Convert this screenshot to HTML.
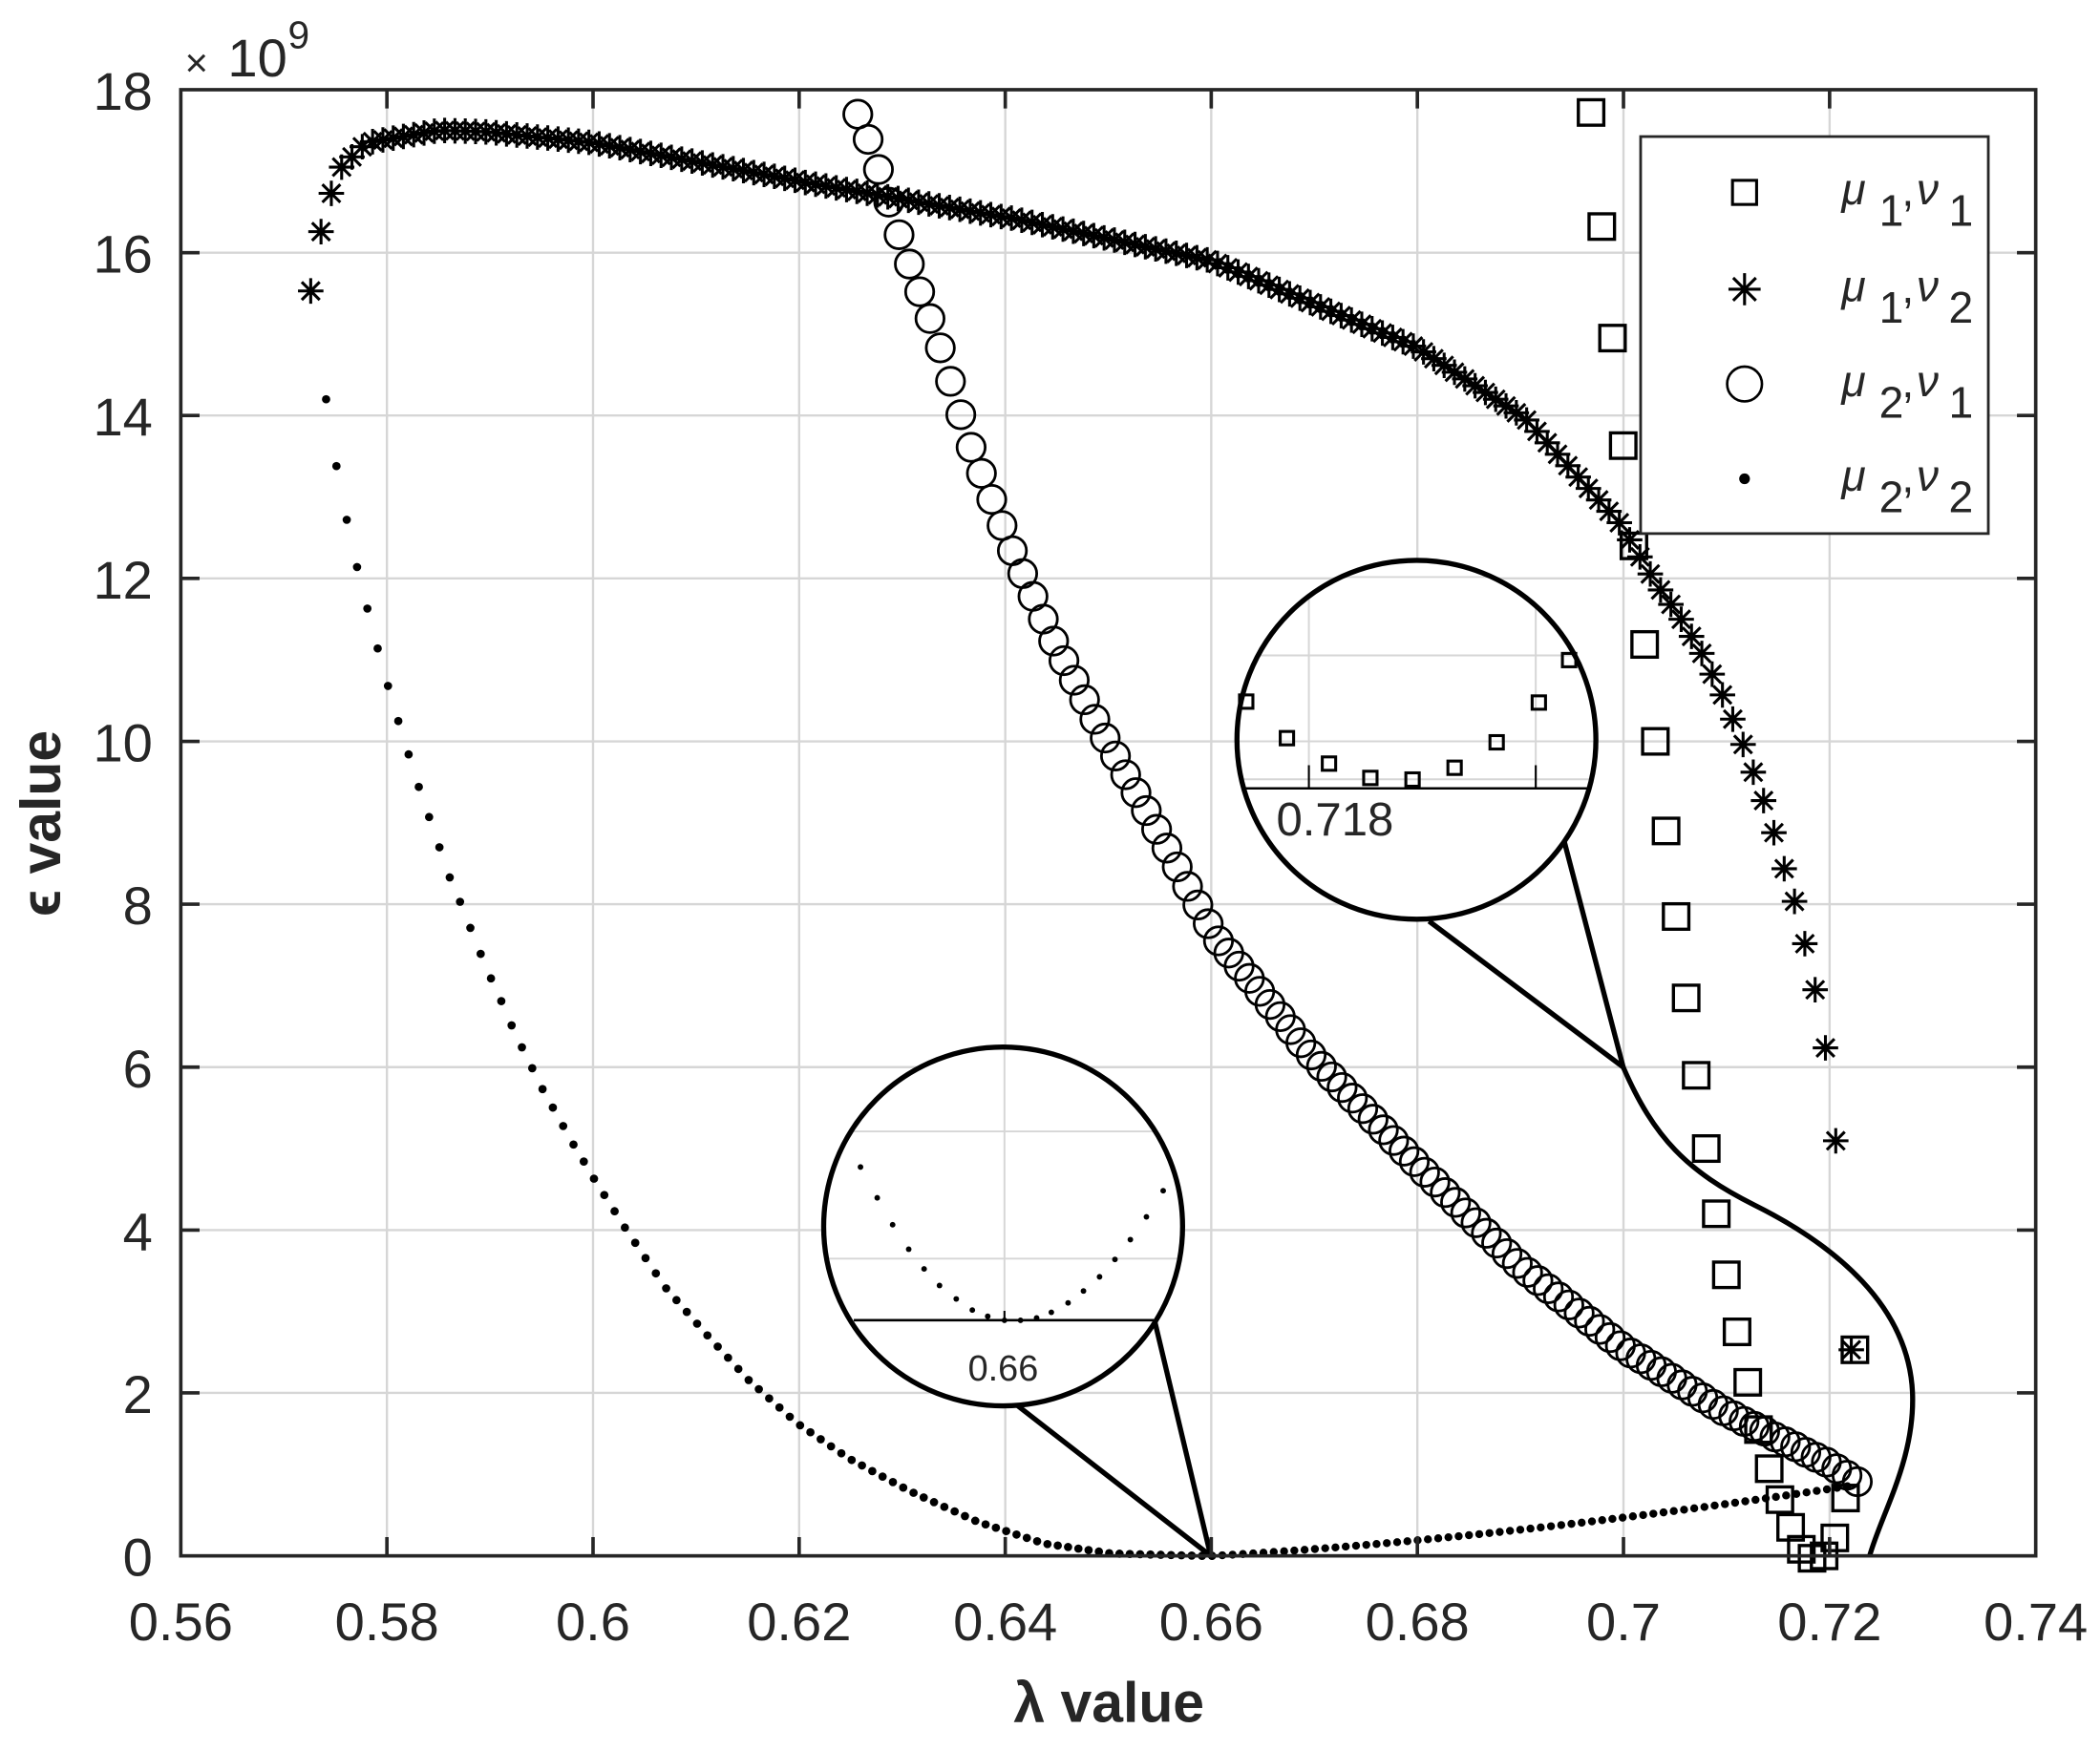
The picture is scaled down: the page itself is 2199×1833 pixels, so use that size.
<!DOCTYPE html>
<html><head><meta charset="utf-8"><style>
html,body{margin:0;padding:0;background:#fff;}
svg{display:block;}
text{font-family:"Liberation Sans",Arial,sans-serif;fill:#262626;}
</style></head><body>
<svg width="2199" height="1833" viewBox="0 0 1568 1307" preserveAspectRatio="none" xmlns="http://www.w3.org/2000/svg">
<defs>
<marker id="sq" markerUnits="userSpaceOnUse" viewBox="-12 -12 24 24" markerWidth="24" markerHeight="24" refX="0" refY="0" overflow="visible"><rect x="-9.5" y="-9.5" width="19" height="19" fill="none" stroke="#000" stroke-width="2.4"/></marker>
<marker id="ci" markerUnits="userSpaceOnUse" viewBox="-13 -13 26 26" markerWidth="26" markerHeight="26" refX="0" refY="0" overflow="visible"><circle r="10.5" fill="none" stroke="#000" stroke-width="2"/></marker>
<marker id="as" markerUnits="userSpaceOnUse" viewBox="-12 -12 24 24" markerWidth="24" markerHeight="24" refX="0" refY="0" overflow="visible"><path d="M0,-9.5V9.5M-9.5,0H9.5M-6.7,-6.7L6.7,6.7M-6.7,6.7L6.7,-6.7" fill="none" stroke="#000" stroke-width="2.2"/></marker>
<marker id="dt" markerUnits="userSpaceOnUse" viewBox="-4 -4 8 8" markerWidth="8" markerHeight="8" refX="0" refY="0" overflow="visible"><circle r="3.1" fill="#000"/></marker>
<clipPath id="c1"><circle cx="749" cy="916" r="134"/></clipPath>
<clipPath id="c2"><circle cx="1057.6" cy="552.5" r="134"/></clipPath>
</defs>
<rect x="0" y="0" width="1568" height="1307" fill="#fff"/>
<g stroke="#d6d6d6" stroke-width="1.7">
<line x1="288.9" y1="67" x2="288.9" y2="1162"/><line x1="442.8" y1="67" x2="442.8" y2="1162"/><line x1="596.7" y1="67" x2="596.7" y2="1162"/><line x1="750.6" y1="67" x2="750.6" y2="1162"/><line x1="904.4" y1="67" x2="904.4" y2="1162"/><line x1="1058.3" y1="67" x2="1058.3" y2="1162"/><line x1="1212.2" y1="67" x2="1212.2" y2="1162"/><line x1="1366.1" y1="67" x2="1366.1" y2="1162"/>
<line x1="135" y1="1040.3" x2="1520" y2="1040.3"/><line x1="135" y1="918.7" x2="1520" y2="918.7"/><line x1="135" y1="797" x2="1520" y2="797"/><line x1="135" y1="675.3" x2="1520" y2="675.3"/><line x1="135" y1="553.7" x2="1520" y2="553.7"/><line x1="135" y1="432" x2="1520" y2="432"/><line x1="135" y1="310.3" x2="1520" y2="310.3"/><line x1="135" y1="188.7" x2="1520" y2="188.7"/>
</g>
<!-- dots mu2 nu2 -->
<polyline fill="none" stroke="none" marker-start="url(#dt)" marker-mid="url(#dt)" marker-end="url(#dt)" points="243.5,298.2 251.2,348.1 258.9,388.2 266.6,423.5 274.3,454.5 282,484.3 289.7,512.3 297.4,538.5 305.1,563.4 312.7,587.7 320.4,610.2 328.1,632.8 335.8,655.3 343.5,673.5 351.2,693 358.9,712.4 366.6,730.7 374.3,747.7 382,765.8 389.7,782.2 397.4,797.8 405.1,813.4 412.8,827.2 420.5,841 428.2,854.8 435.9,867.5 443.5,880.3 451.2,892.5 458.9,904.6 466.6,916.8 474.3,928.2 482,939.6 489.7,951 497.4,962.2 505.1,971 512.8,979.8 520.5,988.6 528.2,997.3 535.9,1005.7 543.6,1014 551.3,1022.4 559,1030.7 566.6,1037.5 574.3,1044.4 582,1051.2 589.7,1058.1 597.4,1064.5 605.1,1069.7 612.8,1074.9 620.5,1080.2 628.2,1085.4 635.9,1090.4 643.6,1094.5 651.3,1098.7 659,1102.8 666.7,1106.9 674.4,1111 682.1,1114.9 689.7,1118.4 697.4,1121.9 705.1,1125.4 712.8,1128.8 720.5,1132.3 728.2,1135.8 735.9,1138.5 743.6,1141 751.3,1143.5 759,1146.1 766.7,1148.6 774.4,1151.1 782.1,1153.2 789.8,1154.3 797.5,1155.4 805.2,1156.6 812.8,1157.7 820.5,1158.8 828.2,1160 835.9,1160.4 843.6,1160.6 851.3,1160.8 859,1161 866.7,1161.2 874.4,1161.4 882.1,1161.6 889.8,1161.8 897.5,1162 905,1162"/>
<path d="M905,1162 Q1120,1150 1386,1109" fill="none" stroke="#000" stroke-width="6" stroke-linecap="round" stroke-dasharray="0 7.7"/>
<!-- circles mu2 nu1 -->
<polyline fill="none" stroke="none" marker-start="url(#ci)" marker-mid="url(#ci)" marker-end="url(#ci)" points="640.5,85.3 648.2,104.1 655.9,126.6 663.6,151 671.3,175.3 679,197.2 686.7,217.9 694.4,237.9 702.1,259.8 709.7,284.8 717.4,309.7 725.1,334.1 732.8,353.5 740.5,373 748.2,392.5 755.9,411.3 763.6,428.4 771.3,445.4 779,462.4 786.7,478.8 794.4,493.4 802.1,508 809.8,522.6 817.5,537.2 825.2,551.2 832.9,564.6 840.5,578.6 848.2,592 855.9,605.4 863.6,619.4 871.3,633.4 879,647.4 886.7,662 894.4,675.9 902.1,689.9 909.8,702.7 917.5,711.8 925.2,721.6 932.9,730.7 940.6,740.4 948.3,750.2 956,759.3 963.6,769 971.3,778.8 979,787.9 986.7,796.4 994.4,804.3 1002.1,812.2 1009.8,820.1 1017.5,828 1025.2,835.9 1032.9,843.8 1040.6,851.8 1048.3,859.7 1056,867.6 1063.7,875.5 1071.4,882.8 1079.1,890.7 1086.8,898 1094.4,905.9 1102.1,913.2 1109.8,921.1 1117.5,928.4 1125.2,936.3 1132.9,943.6 1140.6,950.3 1148.3,956.4 1156,962.5 1163.7,968.6 1171.4,974.6 1179.1,980.7 1186.8,986.8 1194.5,992.9 1202.2,999 1209.9,1005.1 1217.6,1010.5 1225.2,1014.8 1232.9,1019.7 1240.6,1024.5 1248.3,1029.4 1256,1034.3 1263.7,1039.1 1271.4,1044 1279.1,1048.9 1286.8,1053.7 1294.5,1057.4 1302.2,1061.6 1309.9,1065.3 1317.6,1068.9 1325.3,1073.2 1333,1076.8 1340.7,1080.5 1348.3,1084.7 1356,1088.4 1363.7,1092 1371.4,1096.9 1379.1,1101.8 1386.8,1106.6"/>
<!-- asterisks mu1 nu2 -->
<polyline fill="none" stroke="none" marker-start="url(#as)" marker-mid="url(#as)" marker-end="url(#as)" points="232,217.3 239.7,173 247.4,144.4 255.1,124.8 262.8,117.2 270.5,109.6 278.2,105.8 285.9,104.5 293.6,103.2 301.2,101.9 308.9,100.6 316.6,99.3 324.3,98 332,97.5 339.7,97.7 347.4,97.9 355.1,98.2 362.8,98.5 370.5,99.2 378.2,100 385.9,100.8 393.6,101.6 401.3,102.4 409,103.1 416.7,103.9 424.4,104.7 432,105.5 439.7,106.3 447.4,107.5 455.1,108.9 462.8,110.3 470.5,111.7 478.2,113.2 485.9,114.6 493.6,116 501.3,117.5 509,118.9 516.7,120.3 524.4,121.7 532.1,123.2 539.8,124.6 547.5,126 555.1,127.4 562.8,128.9 570.5,130.3 578.2,131.7 585.9,133.2 593.6,134.6 601.3,136.3 609,137.6 616.7,138.9 624.4,140.3 632.1,141.6 639.8,142.9 647.5,144.3 655.2,145.6 662.9,147 670.6,148.3 678.3,149.6 685.9,151 693.6,152.3 701.3,153.7 709,155 716.7,156.3 724.4,157.7 732.1,159 739.8,160.3 747.5,161.7 755.2,162.9 762.9,164.5 770.6,166.1 778.3,167.8 786,169.4 793.7,171.1 801.4,172.7 809.1,174.4 816.7,176 824.4,177.7 832.1,179.3 839.8,181 847.5,182.6 855.2,184.3 862.9,185.9 870.6,187.6 878.3,189.2 886,190.8 893.7,192.5 901.4,194.1 909.1,196.8 916.8,200 924.5,203.2 932.2,206.5 939.8,209.7 947.5,213 955.2,216.2 962.9,219.5 970.6,222.7 978.3,226 986,229.2 993.7,232.5 1001.4,235.7 1009.1,239 1016.8,242.2 1024.5,245.5 1032.2,248.7 1039.9,252 1047.6,255.2 1055.3,258.5 1062.9,262.8 1070.6,267.9 1078.3,272.9 1086,278 1093.7,283 1101.4,288.1 1109.1,293.1 1116.8,298.2 1124.5,303.2 1132.2,308.3 1139.9,313.7 1147.6,322.2 1155.3,330.7 1163,339.3 1170.7,347.8 1178.4,356.3 1186,364.8 1193.7,373.4 1201.4,381.9 1209.1,390.4 1216.8,403.2 1224.5,415.9 1232.2,428.7 1239.9,440.6 1247.6,451.4 1255.3,462.5 1263,475.3 1270.7,488 1278.4,503.5 1286.1,519 1293.8,537.1 1301.5,556 1309.1,576.7 1316.8,597.9 1324.5,621.9 1332.2,648.8 1339.9,673.2 1347.6,704.8 1355.3,739.2 1363,782.6 1370.7,852 1382.3,1008.1"/>
<!-- squares mu1 nu1 -->
<polyline fill="none" stroke="none" marker-start="url(#sq)" marker-mid="url(#sq)" marker-end="url(#sq)" points="1188,84 1196,169.2 1204,252.5 1212,332.8 1220,407.7 1228,481.3 1236,553.7 1244,620.6 1251.5,684.5 1259,745.3 1266.5,803.1 1274,857.8 1281.5,906.5 1289,952.1 1297,994.7 1305,1032.4 1313,1067.7 1321,1096.9 1329,1120 1337,1140.7 1345,1157.1 1353,1163.8 1362,1162 1370,1148.6 1378,1118.8 1385,1008.1"/>
<g fill="none" stroke="#000" stroke-width="3.8">
<path d="M1212,797 C1235,850 1260,875 1310,900 C1370,930 1425,975 1428,1040 C1430,1090 1405,1130 1396,1162"/>
<line x1="1067" y1="688" x2="1212" y2="797"/>
<line x1="1168" y1="628.5" x2="1212" y2="797"/>
<line x1="760" y1="1050" x2="904" y2="1162"/>
<line x1="862.5" y1="988" x2="904" y2="1162"/>
</g>
<!-- inset 1 -->
<circle cx="749" cy="916" r="134" fill="#fff"/>
<g clip-path="url(#c1)" stroke="#d6d6d6" stroke-width="1.4">
<line x1="600" y1="845" x2="900" y2="845"/>
<line x1="600" y1="940" x2="900" y2="940"/>
<line x1="750" y1="780" x2="750" y2="986"/>
</g>
<g fill="#000">
<circle cx="642.5" cy="871.6" r="2.1"/><circle cx="655" cy="894.6" r="2.1"/><circle cx="666.5" cy="914.7" r="2.1"/><circle cx="678.5" cy="933" r="2.1"/><circle cx="690" cy="947.7" r="2.1"/><circle cx="701.5" cy="960.1" r="2.1"/><circle cx="714" cy="970.1" r="2.1"/><circle cx="726" cy="978.4" r="2.1"/><circle cx="737.5" cy="983.1" r="2.1"/><circle cx="750" cy="986.1" r="2.1"/><circle cx="762" cy="986.1" r="2.1"/><circle cx="774" cy="984.3" r="2.1"/><circle cx="785" cy="980.1" r="2.1"/><circle cx="797.5" cy="973.1" r="2.1"/><circle cx="809" cy="964.2" r="2.1"/><circle cx="821" cy="953.6" r="2.1"/><circle cx="832.5" cy="940.6" r="2.1"/><circle cx="844" cy="925.8" r="2.1"/><circle cx="856" cy="908.8" r="2.1"/><circle cx="868.5" cy="889.3" r="2.1"/>
</g>
<line x1="637.5" y1="986" x2="861.5" y2="986" stroke="#000" stroke-width="1.8"/>
<line x1="750" y1="979" x2="750" y2="986" stroke="#000" stroke-width="1.5"/>
<text x="749" y="1031" font-size="27" text-anchor="middle">0.66</text>
<circle cx="749" cy="916" r="134" fill="none" stroke="#000" stroke-width="3.8"/>
<!-- inset 2 -->
<circle cx="1057.6" cy="552.5" r="134" fill="#fff"/>
<g clip-path="url(#c2)" stroke="#d6d6d6" stroke-width="1.4">
<line x1="900" y1="431" x2="1200" y2="431"/>
<line x1="900" y1="489.5" x2="1200" y2="489.5"/>
<line x1="900" y1="553.7" x2="1200" y2="553.7"/>
<line x1="900" y1="582" x2="1200" y2="582"/>
<line x1="977.3" y1="400" x2="977.3" y2="589"/>
<line x1="1146.7" y1="400" x2="1146.7" y2="589"/>
</g>
<g fill="none" stroke="#000" stroke-width="2.2">
<rect x="925.5" y="519" width="10" height="10"/><rect x="955.9" y="546.3" width="10" height="10"/><rect x="987.3" y="565.3" width="10" height="10"/><rect x="1018.2" y="576" width="10" height="10"/><rect x="1049.7" y="577.2" width="10" height="10"/><rect x="1081.1" y="568.4" width="10" height="10"/><rect x="1112.5" y="549.4" width="10" height="10"/><rect x="1144" y="519.7" width="10" height="10"/><rect x="1166.6" y="488" width="10" height="10"/>
</g>
<line x1="927" y1="588.8" x2="1186" y2="588.8" stroke="#000" stroke-width="1.8"/>
<line x1="977.3" y1="571.5" x2="977.3" y2="588.8" stroke="#000" stroke-width="1.5"/>
<line x1="1146.7" y1="571.5" x2="1146.7" y2="588.8" stroke="#000" stroke-width="1.5"/>
<text x="953" y="624" font-size="35">0.718</text>
<circle cx="1057.6" cy="552.5" r="134" fill="none" stroke="#000" stroke-width="3.8"/>
<!-- axes -->
<g stroke="#262626" stroke-width="2.6" fill="none">
<rect x="135" y="67" width="1385" height="1095"/>
<path d="M288.9,1162v-14M442.8,1162v-14M596.7,1162v-14M750.6,1162v-14M904.4,1162v-14M1058.3,1162v-14M1212.2,1162v-14M1366.1,1162v-14M288.9,67v14M442.8,67v14M596.7,67v14M750.6,67v14M904.4,67v14M1058.3,67v14M1212.2,67v14M1366.1,67v14"/>
<path d="M135,1040.3h14M135,918.7h14M135,797h14M135,675.3h14M135,553.7h14M135,432h14M135,310.3h14M135,188.7h14M1520,1040.3h-14M1520,918.7h-14M1520,797h-14M1520,675.3h-14M1520,553.7h-14M1520,432h-14M1520,310.3h-14M1520,188.7h-14"/>
</g>
<g font-size="40" text-anchor="middle">
<text x="135" y="1225">0.56</text><text x="288.9" y="1225">0.58</text><text x="442.8" y="1225">0.6</text><text x="596.7" y="1225">0.62</text><text x="750.6" y="1225">0.64</text><text x="904.4" y="1225">0.66</text><text x="1058.3" y="1225">0.68</text><text x="1212.2" y="1225">0.7</text><text x="1366.1" y="1225">0.72</text><text x="1520" y="1225">0.74</text>
</g>
<g font-size="40" text-anchor="end">
<text x="114" y="1177">0</text><text x="114" y="1055.3">2</text><text x="114" y="933.7">4</text><text x="114" y="812">6</text><text x="114" y="690.3">8</text><text x="114" y="568.7">10</text><text x="114" y="447">12</text><text x="114" y="325.3">14</text><text x="114" y="203.7">16</text><text x="114" y="82">18</text>
</g>
<text x="138" y="57" font-size="30">×</text>
<text x="170" y="57" font-size="40">10</text>
<text x="215" y="36" font-size="29">9</text>
<text x="828" y="1286" font-size="42" font-weight="bold" text-anchor="middle">λ value</text>
<text transform="translate(45,615) rotate(-90)" font-size="42" font-weight="bold" text-anchor="middle">ϵ value</text>
<!-- legend -->
<rect x="1225" y="102" width="259.6" height="296.5" fill="#fff" stroke="#262626" stroke-width="2"/>
<rect x="1293.6" y="134.7" width="18" height="18" fill="none" stroke="#000" stroke-width="2.2"/>
<path d="M1302.6,204V228M1290.6,216H1314.6M1294.1,207.5L1311.1,224.5M1294.1,224.5L1311.1,207.5" fill="none" stroke="#000" stroke-width="2.2"/>
<circle cx="1302.6" cy="286.8" r="13" fill="none" stroke="#000" stroke-width="1.9"/>
<circle cx="1302.6" cy="357.6" r="4" fill="#000"/>
<g font-size="33">
<text x="1375" y="152.7" font-style="italic">μ</text><text x="1403" y="168.7">1</text><text x="1420" y="153.7">,</text><text x="1431" y="152.7" font-style="italic">ν</text><text x="1455" y="168.7">1</text>
<text x="1375" y="225" font-style="italic">μ</text><text x="1403" y="241">1</text><text x="1420" y="226">,</text><text x="1431" y="225" font-style="italic">ν</text><text x="1455" y="241">2</text>
<text x="1375" y="295.8" font-style="italic">μ</text><text x="1403" y="311.8">2</text><text x="1420" y="296.8">,</text><text x="1431" y="295.8" font-style="italic">ν</text><text x="1455" y="311.8">1</text>
<text x="1375" y="366.6" font-style="italic">μ</text><text x="1403" y="382.6">2</text><text x="1420" y="367.6">,</text><text x="1431" y="366.6" font-style="italic">ν</text><text x="1455" y="382.6">2</text>
</g>
</svg>
</body></html>
